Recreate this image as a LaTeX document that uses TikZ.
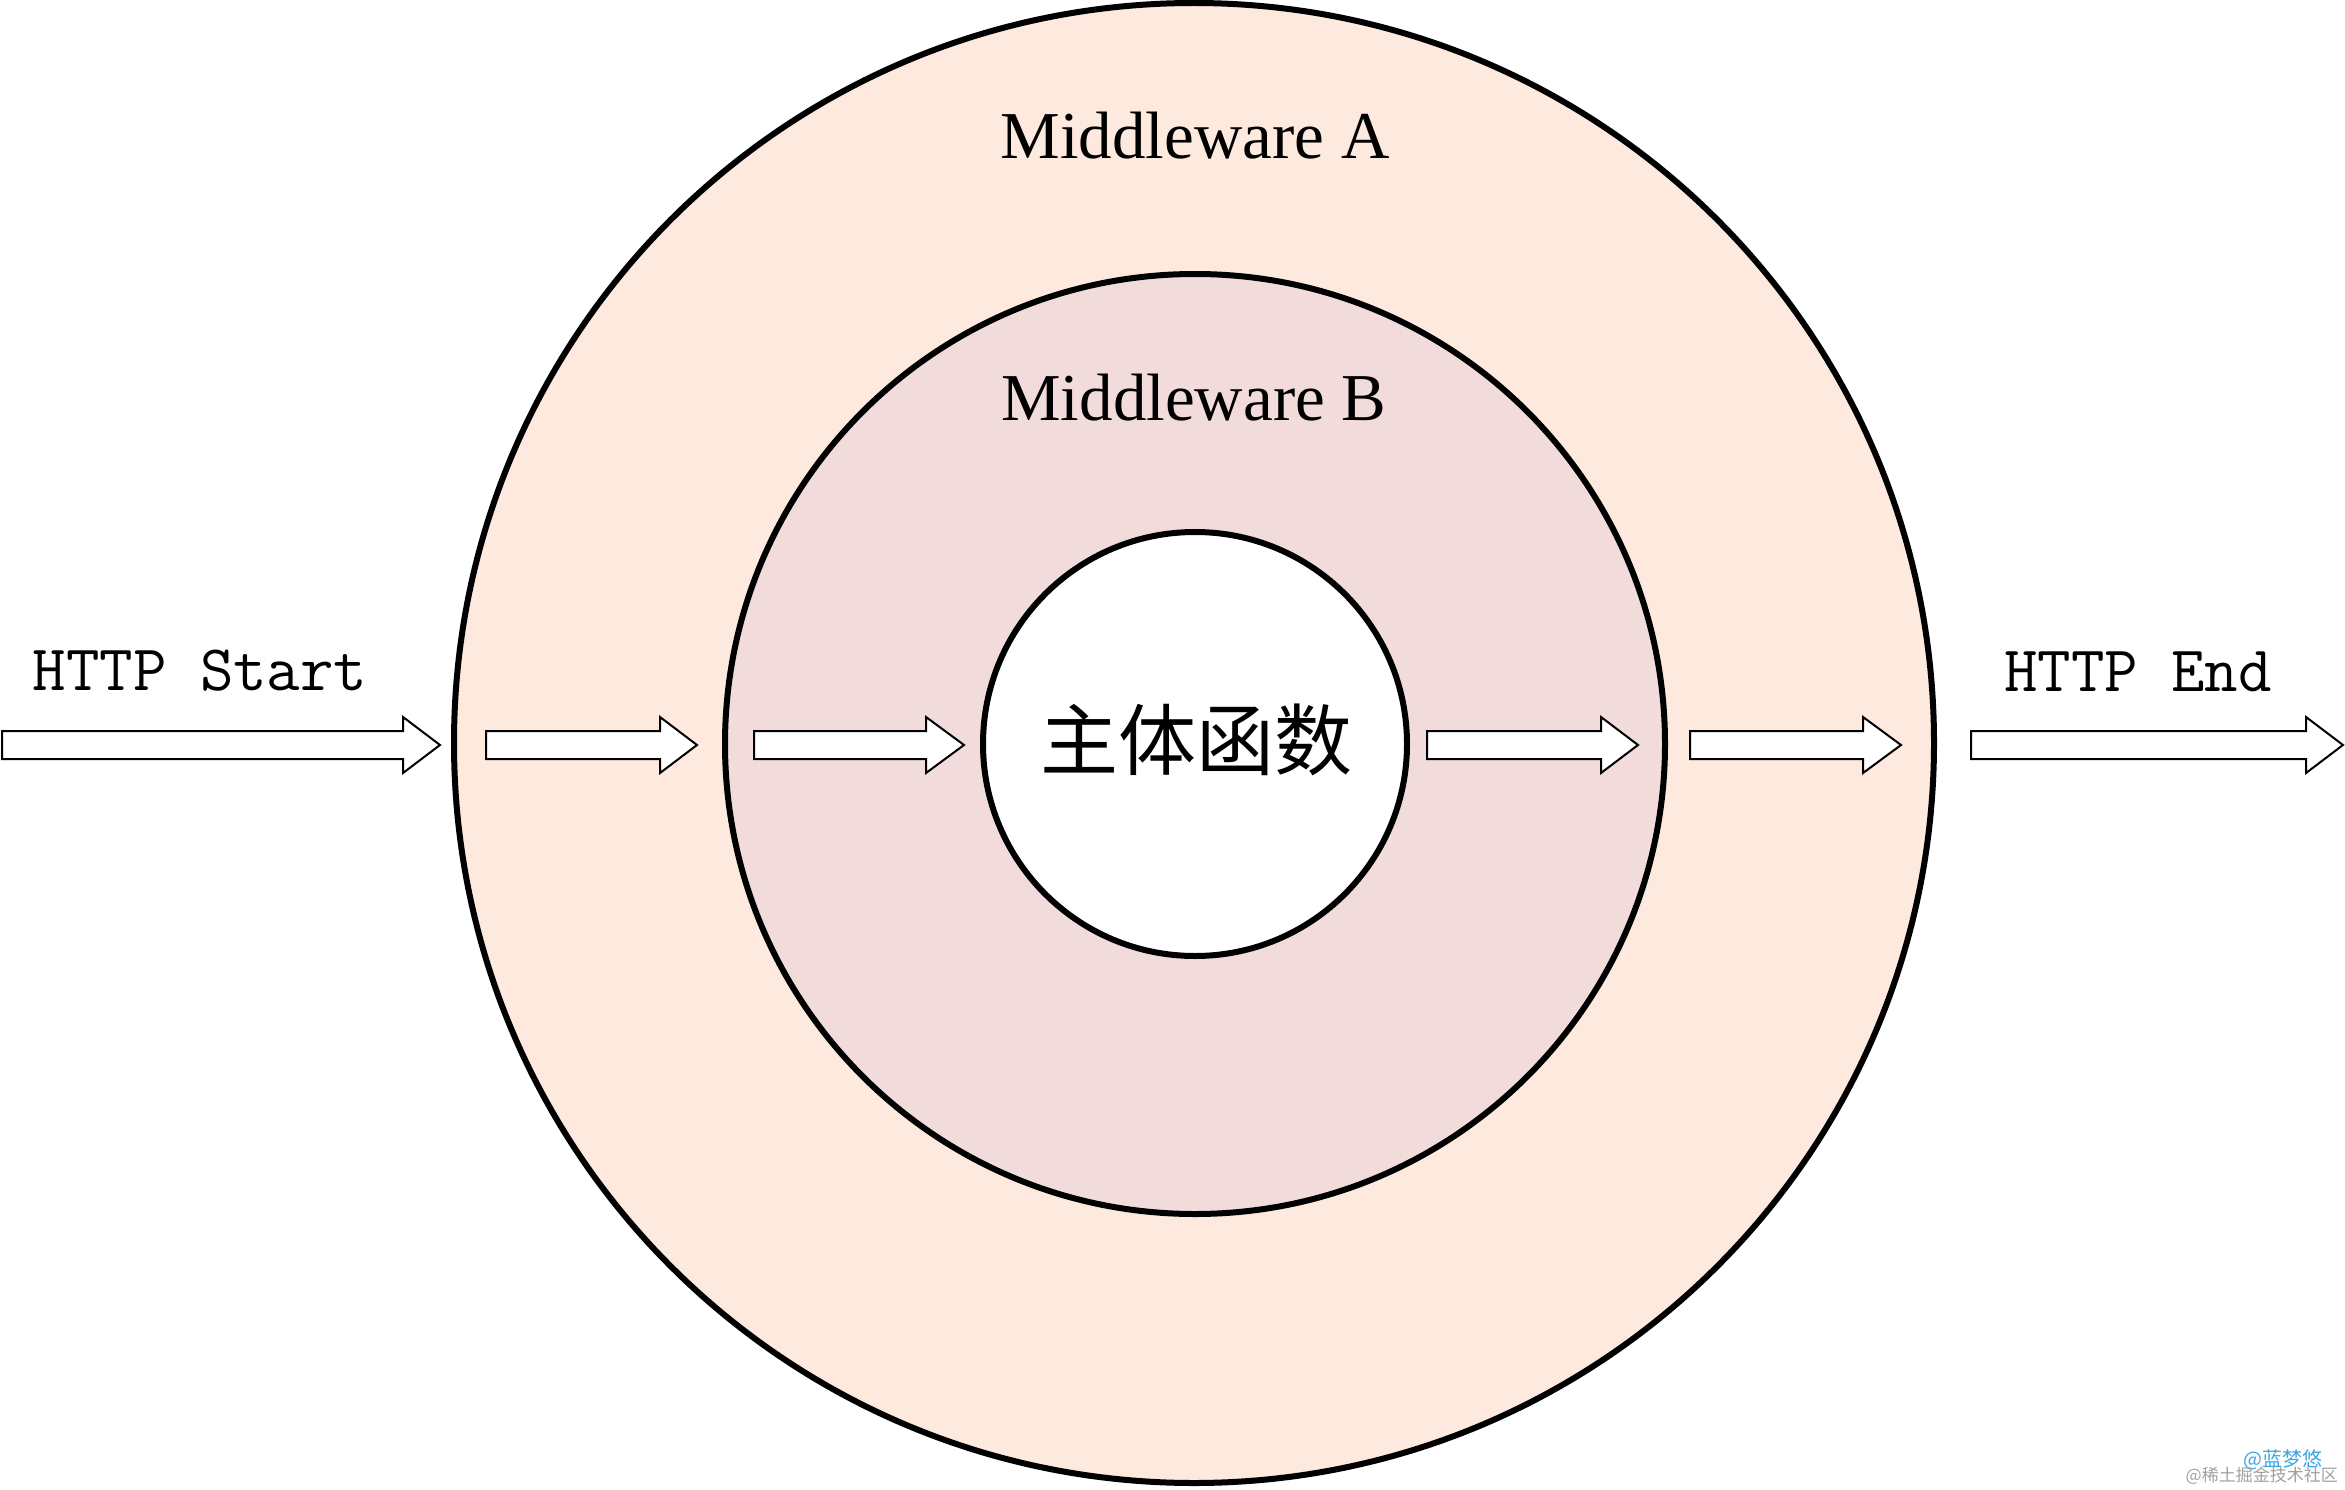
\documentclass[tikz,border=0pt]{standalone}
\usepackage{fontspec}
\setmainfont{Liberation Serif}
\newfontfamily\cjk{Noto Sans CJK SC}
\definecolor{outerfill}{HTML}{FDE9DE}
\definecolor{midfill}{HTML}{F2DCDB}
\definecolor{wmblue}{HTML}{3AA6E2}
\definecolor{wmgray}{HTML}{A0A0A0}
\tikzset{
  ring/.style={circle, draw=black, line width=6pt, inner sep=0pt},
  blockarr/.style={draw=black, fill=white, line width=2pt, line join=miter},
  lbl/.style={inner sep=0pt, anchor=base},
}
\newcommand\myarrow[4]{% name, x start, head base, tip
  \draw[blockarr] (#2,731) -- (#3,731) -- (#3,717) -- (#4,745) -- (#3,773) -- (#3,759) -- (#2,759) -- cycle;
  \coordinate (#1) at (#4,745);
}
\begin{document}
\begin{tikzpicture}[x=1pt,y=-1pt]
\useasboundingbox (0,0) rectangle (2345,1490);
\node[ring, fill=outerfill, minimum size=1480pt] (outer) at (1194,743) {};
\node[ring, fill=midfill, minimum size=940pt] (middle) at (1195,744) {};
\node[ring, fill=white, minimum size=424pt] (inner) at (1195,744) {};

\node[lbl] (mwa) at (1195,159) {\fontsize{67}{78}\selectfont Middleware A};
\node[lbl] (mwb) at (1194,420) {\fontsize{67}{78}\selectfont Middleware B};
\node[lbl] (body) at (1196,769) {\cjk\fontsize{78}{90}\selectfont 主体函数};
\node[lbl] (start) at (200,690) {\ttfamily\fontsize{65}{76}\selectfont HTTP Start};
\node[lbl] (end) at (2138,691) {\ttfamily\fontsize{65}{76}\selectfont HTTP End};

\myarrow{a1}{2}{403}{440}
\myarrow{a2}{486}{660}{697}
\myarrow{a3}{754}{926}{964}
\myarrow{a4}{1427}{1601}{1638}
\myarrow{a5}{1690}{1863}{1901}
\myarrow{a6}{1971}{2306}{2343}

\node[inner sep=0pt, anchor=base east, text=wmblue] (wm1) at (2323,1466) {\cjk\fontsize{20}{22}\selectfont @蓝梦悠};
\node[inner sep=0pt, anchor=base east, text=wmgray] (wm2) at (2338,1481) {\cjk\fontsize{17}{19}\selectfont @稀土掘金技术社区};
\end{tikzpicture}
\end{document}
